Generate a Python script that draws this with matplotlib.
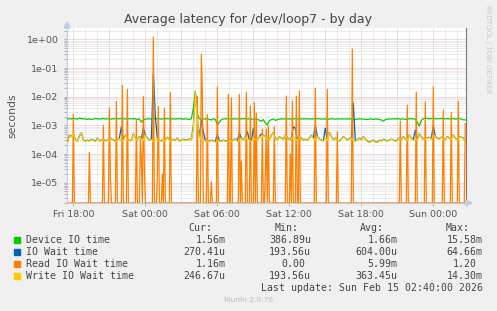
import numpy as np
import matplotlib
matplotlib.use("Agg")
import matplotlib.pyplot as plt
from matplotlib.ticker import FixedLocator, NullFormatter, LogLocator
from matplotlib.patches import Polygon

# ---------------- data ----------------
# 10-minute samples ending Sun 02:40 (values in milliseconds)
device_io_ms = [
    1.70,1.72,1.68,1.75,1.70,1.66,1.80,1.72,1.70,1.68,1.62,1.70,1.60,1.68,1.72,1.70,1.66,1.70,1.72,1.68,
    1.70,1.68,1.66,1.72,1.70,1.68,1.70,1.74,1.68,1.70,1.66,1.70,1.72,1.68,1.70,1.62,1.70,1.30,1.60,1.66,
    1.68,1.70,1.66,1.70,1.72,1.68,1.70,1.66,1.70,1.68,1.72,1.70,1.66,1.70,1.68,1.70,1.72,1.68,1.66,1.70,
    1.66,1.62,1.70,4.00,15.58,2.50,1.70,1.62,1.70,1.66,1.72,1.60,1.55,1.70,1.62,1.05,1.30,1.60,1.68,1.70,
    1.70,1.68,1.66,1.70,1.68,1.70,1.66,1.70,1.72,1.68,1.66,1.70,1.68,1.62,1.70,1.66,1.50,1.40,1.60,1.20,
    1.05,1.45,1.60,1.66,1.50,1.60,1.66,1.70,1.68,1.66,1.70,1.68,1.66,1.70,1.72,1.68,1.66,1.70,1.68,1.70,
    1.68,1.70,1.66,1.70,1.68,1.72,1.70,1.66,1.70,1.68,1.60,1.66,1.70,1.68,1.66,1.70,1.68,1.66,1.70,1.68,
    1.66,1.70,1.68,1.66,1.62,1.66,1.70,1.68,1.64,1.66,1.60,1.66,1.68,1.62,1.66,1.68,1.60,1.55,1.40,1.60,
    1.66,1.68,1.66,1.70,1.68,1.72,1.68,1.66,1.70,1.62,1.66,1.70,1.72,1.68,1.66,1.30,0.95,1.50,1.70,1.80,
    1.75,1.70,1.72,1.80,1.68,1.72,1.70,1.75,1.66,1.70,1.72,1.68,1.70,1.74,1.66,1.72,1.70,1.68,1.56,1.56,
]
io_wait_ms = [
    0.26,0.46,0.41,0.50,0.31,0.29,0.43,0.55,0.31,0.28,0.31,0.29,0.33,0.31,0.28,0.36,0.29,0.31,0.33,0.29,
    0.31,0.29,0.34,0.31,0.28,0.31,0.36,0.90,0.31,0.46,0.33,0.31,0.29,0.51,0.36,0.31,0.41,0.34,0.80,0.46,
    0.36,0.31,0.33,64.66,2.00,0.35,0.31,0.29,0.33,0.31,0.39,0.31,0.29,0.33,0.31,0.36,0.29,0.31,0.33,0.31,
    0.31,0.34,0.31,1.00,14.00,1.50,0.41,1.50,0.60,0.29,0.31,0.28,0.31,0.29,0.27,0.50,0.29,0.28,0.31,0.29,
    0.29,0.31,0.28,0.31,0.34,0.29,0.55,0.36,0.31,0.41,0.60,0.31,0.29,0.80,0.33,0.31,0.41,0.50,0.46,0.41,
    0.36,0.31,0.46,0.56,0.36,0.31,0.41,0.36,0.33,0.46,0.39,0.31,0.36,0.90,0.80,0.31,0.39,0.36,0.31,0.33,
    0.31,0.36,0.46,0.36,1.00,0.41,0.34,0.31,0.29,0.80,0.31,0.56,0.41,0.31,0.36,0.31,0.29,0.33,0.41,0.36,
    0.31,0.34,0.36,6.00,0.29,0.31,0.36,0.31,0.41,0.33,0.29,0.26,0.28,0.31,0.27,0.26,0.31,0.29,0.33,0.31,
    0.29,0.31,0.33,0.31,0.29,0.31,0.36,0.31,0.41,0.34,0.31,0.46,0.36,0.31,0.70,0.31,0.51,0.39,0.33,0.36,
    0.36,0.39,0.34,1.00,0.41,0.36,0.34,0.39,0.36,0.31,0.41,0.36,0.34,0.46,0.36,0.31,0.41,0.39,0.36,0.27,
]
write_io_ms = [
    0.25,0.45,0.40,0.50,0.30,0.28,0.42,0.55,0.30,0.27,0.30,0.28,0.32,0.30,0.27,0.35,0.28,0.30,0.32,0.28,
    0.30,0.28,0.33,0.30,0.27,0.30,0.35,0.28,0.30,0.45,0.32,0.30,0.28,0.50,0.35,0.30,0.40,0.33,0.30,0.45,
    0.35,0.30,0.32,0.28,0.30,0.34,0.30,0.28,0.32,0.30,0.38,0.30,0.28,0.32,0.30,0.35,0.28,0.30,0.32,0.30,
    0.30,0.33,0.30,0.80,14.30,1.50,0.40,0.32,0.30,0.28,0.30,0.27,0.30,0.28,0.26,0.30,0.28,0.27,0.30,0.28,
    0.28,0.30,0.27,0.30,0.33,0.28,0.30,0.35,0.30,0.40,0.33,0.30,0.28,0.35,0.32,0.30,0.40,0.35,0.45,0.40,
    0.35,0.30,0.45,0.55,0.35,0.30,0.40,0.35,0.32,0.45,0.38,0.30,0.35,0.40,0.33,0.30,0.38,0.35,0.30,0.32,
    0.30,0.35,0.45,0.35,0.30,0.40,0.33,0.30,0.28,0.35,0.30,0.55,0.40,0.30,0.35,0.30,0.28,0.32,0.40,0.35,
    0.30,0.33,0.35,0.30,0.28,0.30,0.35,0.30,0.40,0.32,0.28,0.25,0.27,0.30,0.26,0.25,0.30,0.28,0.32,0.30,
    0.28,0.30,0.33,0.30,0.28,0.30,0.35,0.30,0.40,0.33,0.30,0.45,0.35,0.30,0.33,0.30,0.50,0.38,0.32,0.35,
    0.35,0.38,0.33,0.45,0.40,0.35,0.33,0.38,0.35,0.30,0.40,0.35,0.33,0.45,0.35,0.30,0.40,0.38,0.35,0.25,
]
# Read IO wait: zero except at these 5-minute samples (seconds)
read_times = [
    "Fri 18:00","Fri 19:20","Fri 20:30","Fri 21:00","Fri 21:05","Fri 21:35","Fri 22:05","Fri 22:30",
    "Fri 23:15","Fri 23:35","Fri 23:40","Fri 23:50","Fri 23:55","Sat 00:40","Sat 01:00","Sat 01:05",
    "Sat 01:25","Sat 01:35","Sat 02:05","Sat 04:20","Sat 04:40","Sat 04:45","Sat 05:10","Sat 05:30",
    "Sat 06:00","Sat 06:55","Sat 07:10","Sat 07:50","Sat 08:00","Sat 08:25","Sat 08:45","Sat 09:05",
    "Sat 09:15","Sat 09:45","Sat 10:00","Sat 10:05","Sat 10:15","Sat 10:45","Sat 11:45","Sat 12:05",
    "Sat 12:15","Sat 12:35","Sat 12:50","Sat 14:10","Sat 15:10","Sat 16:00","Sat 17:15","Sat 21:15",
    "Sat 21:50","Sat 22:35","Sat 23:20","Sun 00:00","Sun 00:50","Sun 01:30","Sun 02:05","Sun 02:40",
]
read_values = [
    2.4e-3,1.15e-4,1.0e-3,4.1e-3,1.8e-5,6.8e-3,2.5e-2,1.8e-2,
    1.5e-3,4.0e-4,5.7e-5,1.0e-2,3.6e-5,1.20,2.4e-5,4.5e-3,
    2.0e-5,3.9e-3,1.4e-2,1.0e-2,0.30,1.1e-2,2.4e-3,1.1e-5,
    2.2e-2,1.2e-2,9.0e-3,1.2e-2,5.7e-5,1.45e-2,4.7e-3,6.2e-3,
    2.7e-3,7.5e-4,2.0e-5,7.5e-4,9.5e-4,9.0e-4,1.05e-2,1.0e-4,
    7.0e-3,1.05e-2,1.6e-2,2.0e-2,1.8e-2,6.0e-4,0.46,1.4e-3,
    5.1e-3,1.45e-2,6.5e-3,2.2e-2,3.4e-3,2.9e-3,7.0e-3,1.16e-3,
]
x_tick_labels = ["Fri 18:00", "Sat 00:00", "Sat 06:00", "Sat 12:00", "Sat 18:00", "Sun 00:00"]
y_tick_values = [1e0, 1e-1, 1e-2, 1e-3, 1e-4, 1e-5]
y_tick_labels = ["1e+00", "1e-01", "1e-02", "1e-03", "1e-04", "1e-05"]

legend_names = ["Device IO time", "IO Wait time", "Read IO Wait time", "Write IO Wait time"]
legend_cur = ["1.56m", "270.41u", "1.16m", "246.67u"]
legend_min = ["386.89u", "193.56u", "0.00", "193.56u"]
legend_avg = ["1.66m", "604.00u", "5.99m", "363.45u"]
legend_max = ["15.58m", "64.66m", "1.20", "14.30m"]
colors = ["#00CC00", "#0066B3", "#FF8000", "#FFCC00"]

END_TIME = "Sun 02:40"
START_TIME = "Fri 17:28"


def hours(label):
    day, hm = label.split()
    h, m = hm.split(":")
    return {"Fri": 0, "Sat": 24, "Sun": 48}[day] + int(h) + int(m) / 60 - 18


# ---------------- figure ----------------
W, H = 497, 311
fig = plt.figure(figsize=(W / 100, H / 100), dpi=100, facecolor="#F0F0F0")
ax = fig.add_axes([67 / W, 1 - 203 / H, 399 / W, 174.7 / H])
ax.set_facecolor("white")

t_end = hours(END_TIME)
n10 = len(device_io_ms)
t10 = t_end - (n10 - 1 - np.arange(n10)) / 6.0
n5 = 400
t5 = t_end - (n5 - 1 - np.arange(n5)) / 12.0
read = np.zeros(n5)
for lab, v in zip(read_times, read_values):
    idx = int(round((hours(lab) - t5[0]) * 12))
    read[idx] = v

ybot, ytop = 1.98e-6, 2.42
ax.set_yscale("log")
ax.set_ylim(ybot, ytop)
ax.set_xlim(hours(START_TIME), t_end + 0.06)

# grid
ax.yaxis.set_major_locator(FixedLocator(y_tick_values))
ax.yaxis.set_minor_locator(LogLocator(base=10, subs=np.arange(2, 10)))
ax.yaxis.set_minor_formatter(NullFormatter())
ax.set_yticklabels(y_tick_labels)
dot = (0, (1, 1))
minor_col = "#DADADA"
major_col = "#EBB8B8"
ax.grid(True, which="minor", axis="y", color=minor_col, lw=0.72, ls=dot)
ax.grid(True, which="major", axis="y", color=major_col, lw=0.72, ls=dot)
x0, x1 = ax.get_xlim()
for h in range(0, 33):
    if x0 < h < x1:
        major = (h % 3 == 0)
        ax.axvline(h, color=major_col if major else minor_col, lw=0.72, ls=dot,
                   zorder=0.5 if not major else 0.6)

ax.set_xticks([hours(l) for l in x_tick_labels])
ax.set_xticklabels(x_tick_labels)
ax.tick_params(axis="both", which="both", colors="#B0B0B0", labelcolor="#555555",
               labelsize=6.8, length=2, width=0.7)
ax.tick_params(axis="y", which="major", pad=4)
ax.tick_params(axis="x", which="major", pad=3)

# series
lw = 0.9
ax.plot(t10, np.array(device_io_ms) / 1000, color=colors[0], lw=lw, zorder=3)
ax.plot(t10, np.array(io_wait_ms) / 1000, color=colors[1], lw=lw, zorder=3.1)
read_draw = np.where(read > 0, read, ybot)
ax.plot(t5, read_draw, color=colors[2], lw=lw, zorder=3.2, clip_on=True)
ax.plot(t10, np.array(write_io_ms) / 1000, color=colors[3], lw=lw, zorder=3.3)

# spines
ax.spines["top"].set_visible(False)
ax.spines["right"].set_color("#777777")
ax.spines["right"].set_linewidth(0.8)
for s in ["left", "bottom"]:
    ax.spines[s].set_color("#C4CCE4")
    ax.spines[s].set_linewidth(0.9)

ax.set_ylabel("seconds", fontsize=7.8, color="#555555", labelpad=7)


def fx(x):
    return x / W


def fy(y):
    return 1 - y / H


# axis arrows
arrow_col = "#C4CCE4"
fig.patches.append(Polygon([[fx(64), fy(28)], [fx(70), fy(28)], [fx(67), fy(22)]],
                           closed=True, transform=fig.transFigure, color=arrow_col))
fig.patches.append(Polygon([[fx(466), fy(200)], [fx(466), fy(206)], [fx(472), fy(203)]],
                           closed=True, transform=fig.transFigure, color=arrow_col))

fig.text(fx(248), fy(20), "Average latency for /dev/loop7 - by day", ha="center",
         va="center", fontsize=9, color="#444444")
fig.text(fx(488), fy(5), "RRDTOOL / TOBI OETIKER", rotation=270, ha="center", va="top",
         fontsize=5.0, color="#C8C8C8")

mono = dict(family="DejaVu Sans Mono", fontsize=7.1, color="#444444", va="center")
fig.text(fx(212.7), fy(227.7), "Cur:", ha="right", **mono)
fig.text(fx(298.3), fy(227.7), "Min:", ha="right", **mono)
fig.text(fx(384.3), fy(227.7), "Avg:", ha="right", **mono)
fig.text(fx(470.0), fy(227.7), "Max:", ha="right", **mono)
col_edges = [225.7, 311.0, 397.3, 482.7]
for k in range(4):
    yy = 239.7 + 12 * k
    fig.patches.append(plt.Rectangle((fx(14), fy(yy + 3)), 6 / W, 6 / H,
                                     transform=fig.transFigure, color=colors[k]))
    fig.text(fx(26), fy(yy), legend_names[k], ha="left", **mono)
    for edge, col in zip(col_edges, [legend_cur, legend_min, legend_avg, legend_max]):
        v = col[k]
        e = edge if v[-1].isalpha() else edge - 6
        fig.text(fx(e), fy(yy), v, ha="right", **mono)

fig.text(fx(482.7), fy(287.7), "Last update: Sun Feb 15 02:40:00 2026", ha="right", **mono)
fig.text(fx(248), fy(300), "Munin 2.0.76", ha="center", va="center", fontsize=5.4,
         color="#BBBBBB")

fig.savefig("out.png", dpi=100, facecolor=fig.get_facecolor())
